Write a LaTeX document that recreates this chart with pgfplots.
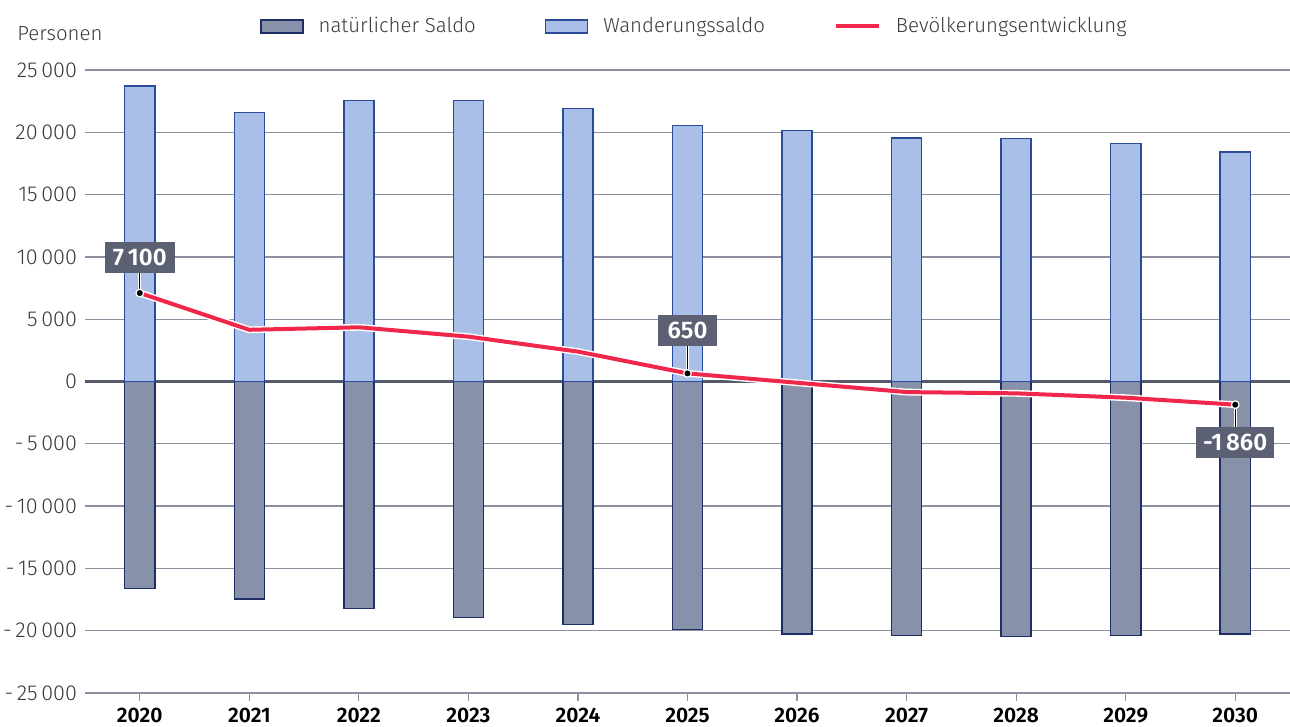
\documentclass[border=0pt]{standalone}
\usepackage{fontspec}
\setmainfont{Fira Sans}[UprightFont={* Light}, BoldFont={* SemiBold}]
\usepackage{pgfplots}
\pgfplotsset{compat=1.18}
\definecolor{wand}{HTML}{AABFE8}
\definecolor{wandedge}{HTML}{2A4A9A}
\definecolor{nat}{HTML}{8791AA}
\definecolor{natedge}{HTML}{1E2D64}
\definecolor{redl}{HTML}{F0274B}
\definecolor{labelc}{HTML}{5B6073}
\definecolor{gridc}{HTML}{8C90A0}
\definecolor{zeroc}{HTML}{555A6B}
\definecolor{textc}{HTML}{3A3A3A}
\pgfplotsset{
  boxleg/.style={legend image code/.code={\draw[##1] (0pt,-3.2pt) rectangle (21pt,3.2pt);}},
  lineleg/.style={legend image code/.code={\draw[##1] (0pt,0pt) -- (21.5pt,0pt);}},
}
\pgfplotstableread{
x wand nat total
0 23700 -16600 7100
1 21600 -17450 4150
2 22550 -18200 4350
3 22550 -18950 3600
4 21900 -19500 2400
5 20550 -19900 650
6 20150 -20250 -100
7 19550 -20400 -850
8 19500 -20450 -950
9 19100 -20400 -1300
10 18400 -20260 -1860
}\datatable
\begin{document}
\begin{tikzpicture}
\useasboundingbox (-42.5pt,-17pt) rectangle (602.5pt,346.5pt);
\begin{axis}[
  scale only axis,
  width=602.5pt, height=311.5pt,
  at={(0,0)}, anchor=south west,
  xmin=-0.5, xmax=10.5,
  ymin=-25000, ymax=25000,
  scaled y ticks=false,
  xtick={0,...,10},
  xticklabels={2020,2021,2022,2023,2024,2025,2026,2027,2028,2029,2030},
  ytick={-25000,-20000,...,25000},
  yticklabels={-\,25\,000,-\,20\,000,-\,15\,000,-\,10\,000,-\,5\,000,0,5\,000,10\,000,15\,000,20\,000,25\,000},
  ymajorgrids,
  grid style={gridc, line width=0.6pt},
  axis line style={draw=none},
  xtick pos=bottom,
  tick align=outside,
  major tick length=4pt,
  xtick style={draw=gridc, line width=0.6pt},
  ytick style={draw=none},
  xticklabel style={font=\bfseries\fontsize{10.5}{12}\selectfont, text=black},
  yticklabel style={font=\fontsize{10.8}{12}\selectfont, text=textc, xshift=3.5pt},
  legend columns=3,
  legend style={draw=none, fill=none, at={(0.5065,1.07)}, anchor=center,
    font=\fontsize{10.2}{12}\selectfont, text=textc,
    /tikz/every odd column/.append style={column sep=5.5pt},
    /tikz/every even column/.append style={column sep=32.5pt},
    legend cell align=left},
  clip=false,
]
\draw[zeroc, line width=1.1pt] (axis cs:-0.5,0) -- (axis cs:10.5,0);
\addplot[ybar, bar width=0.275, bar shift=0pt, fill=nat, draw=natedge, line width=0.75pt, boxleg]
  table[x=x, y=nat] {\datatable};
\addlegendentry{natürlicher Saldo}
\addplot[ybar, bar width=0.275, bar shift=0pt, fill=wand, draw=wandedge, line width=0.75pt, boxleg]
  table[x=x, y=wand] {\datatable};
\addlegendentry{Wanderungssaldo}
\addplot[white, line width=3.4pt, forget plot] table[x=x, y=total] {\datatable};
\addplot[redl, line width=2pt, mark=none, lineleg]
  table[x=x, y=total] {\datatable};
\addlegendentry{Bevölkerungsentwicklung}
\node[fill=labelc, text=white, font=\bfseries\fontsize{12}{14}\selectfont, inner xsep=4pt, minimum height=15pt] (l1) at (axis cs:0,9950) {7\,100};
\node[fill=labelc, text=white, font=\bfseries\fontsize{12}{14}\selectfont, inner xsep=5pt, minimum height=15pt] (l2) at (axis cs:5,4100) {650};
\node[fill=labelc, text=white, font=\bfseries\fontsize{12}{14}\selectfont, inner xsep=3.5pt, minimum height=15pt] (l3) at (axis cs:10,-4900) {-1\,860};
\draw[white, line width=1.6pt] (l1.south) -- (axis cs:0,7100);
\draw[black, line width=0.6pt] (l1.south) -- (axis cs:0,7100);
\draw[white, line width=1.6pt] (l2.south) -- (axis cs:5,650);
\draw[black, line width=0.6pt] (l2.south) -- (axis cs:5,650);
\draw[white, line width=1.6pt] (l3.north) -- (axis cs:10,-1860);
\draw[black, line width=0.6pt] (l3.north) -- (axis cs:10,-1860);
\addplot[only marks, mark=*, mark size=1.9pt, mark options={fill=black, draw=white, line width=0.6pt}, forget plot]
  coordinates {(0,7100) (5,650) (10,-1860)};
\end{axis}
\node[anchor=west, inner sep=0pt, font=\fontsize{10.2}{12}\selectfont, text=textc] at (-34pt,329.5pt) {Personen};
\end{tikzpicture}
\end{document}
